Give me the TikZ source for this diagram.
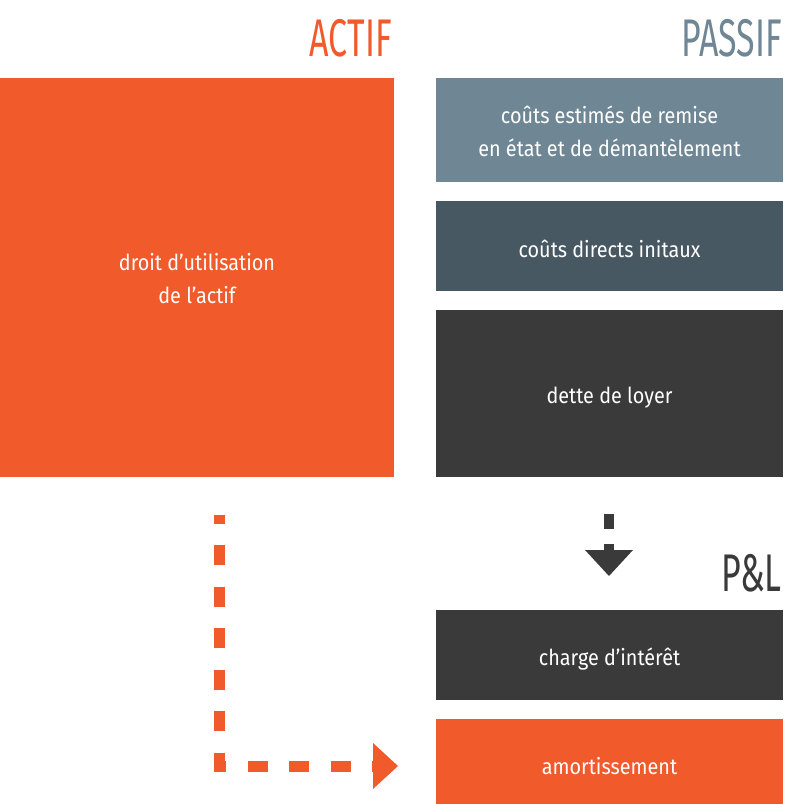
\documentclass[tikz,border=0pt]{standalone}
\usepackage{fontspec}
\setmainfont[FakeStretch=0.9]{Fira Sans}
\newfontfamily\headfont[FakeStretch=0.64]{Fira Sans}
\definecolor{orng}{HTML}{F15A2B}
\definecolor{slate}{HTML}{6F8795}
\definecolor{dslate}{HTML}{485862}
\definecolor{dgray}{HTML}{3A3A3A}
\begin{document}
\begin{tikzpicture}[x=1pt,y=-1pt,
  box/.style={anchor=north west,inner sep=0pt,outer sep=0pt,minimum width=347pt},
  txt/.style={inner sep=0pt,text=white,font=\fontsize{22}{33}\selectfont,align=center},
  head/.style={anchor=base east,inner sep=0pt,font=\headfont\fontsize{53}{53}\selectfont}]
\useasboundingbox (0,0) rectangle (785,804);
\node[box,fill=orng,minimum width=394pt,minimum height=399pt] (actif) at (0,78) {};
\node[box,fill=slate,minimum height=104pt] (p1) at (436,78) {};
\node[box,fill=dslate,minimum height=90pt] (p2) at (436,201) {};
\node[box,fill=dgray,minimum height=167pt] (p3) at (436,310) {};
\node[box,fill=dgray,minimum height=90pt] (c1) at (436,610) {};
\node[box,fill=orng,minimum height=85pt] (c2) at (436,719) {};
\node[txt] (tactif) at ([yshift=-1pt]actif.center) {droit d’utilisation\\de l’actif};
\node[txt] (tp1) at ([yshift=-1.5pt]p1.center) {coûts estimés de remise\\en état et de démantèlement};
\node[txt] (tp2) at ([yshift=-3pt]p2.center) {coûts directs initaux};
\node[txt] (tp3) at ([yshift=-4.5pt]p3.center) {dette de loyer};
\node[txt] (tc1) at ([yshift=-4pt]c1.center) {charge d’intérêt};
\node[txt] (tc2) at ([yshift=-5pt]c2.center) {amortissement};
\node[head,text=orng] (hactif) at (392,56) {ACTIF};
\node[head,text=slate] (hpassif) at (782,56) {PASSIF};
\node[head,text=dgray] (hpl) at (782,591) {P\&L};
% dashed arrow
\coordinate (ds) at (219.5,515);
\coordinate (dc) at (219.5,766);
\coordinate (de) at (373,766);
\draw[orng,line width=11pt,dash pattern=on 20pt off 21.5pt,dash phase=11.5pt] (ds) -- (dc) -- (de);
\fill[orng] (373,743) -- (398,766) -- (373,789) -- cycle;
% down arrow
\fill[dgray] (604,514) rectangle (614,529);
\fill[dgray] (604,544) rectangle (614,551);
\fill[dgray] (585,550) -- (633,550) -- (609,576) -- cycle;
\end{tikzpicture}
\end{document}
